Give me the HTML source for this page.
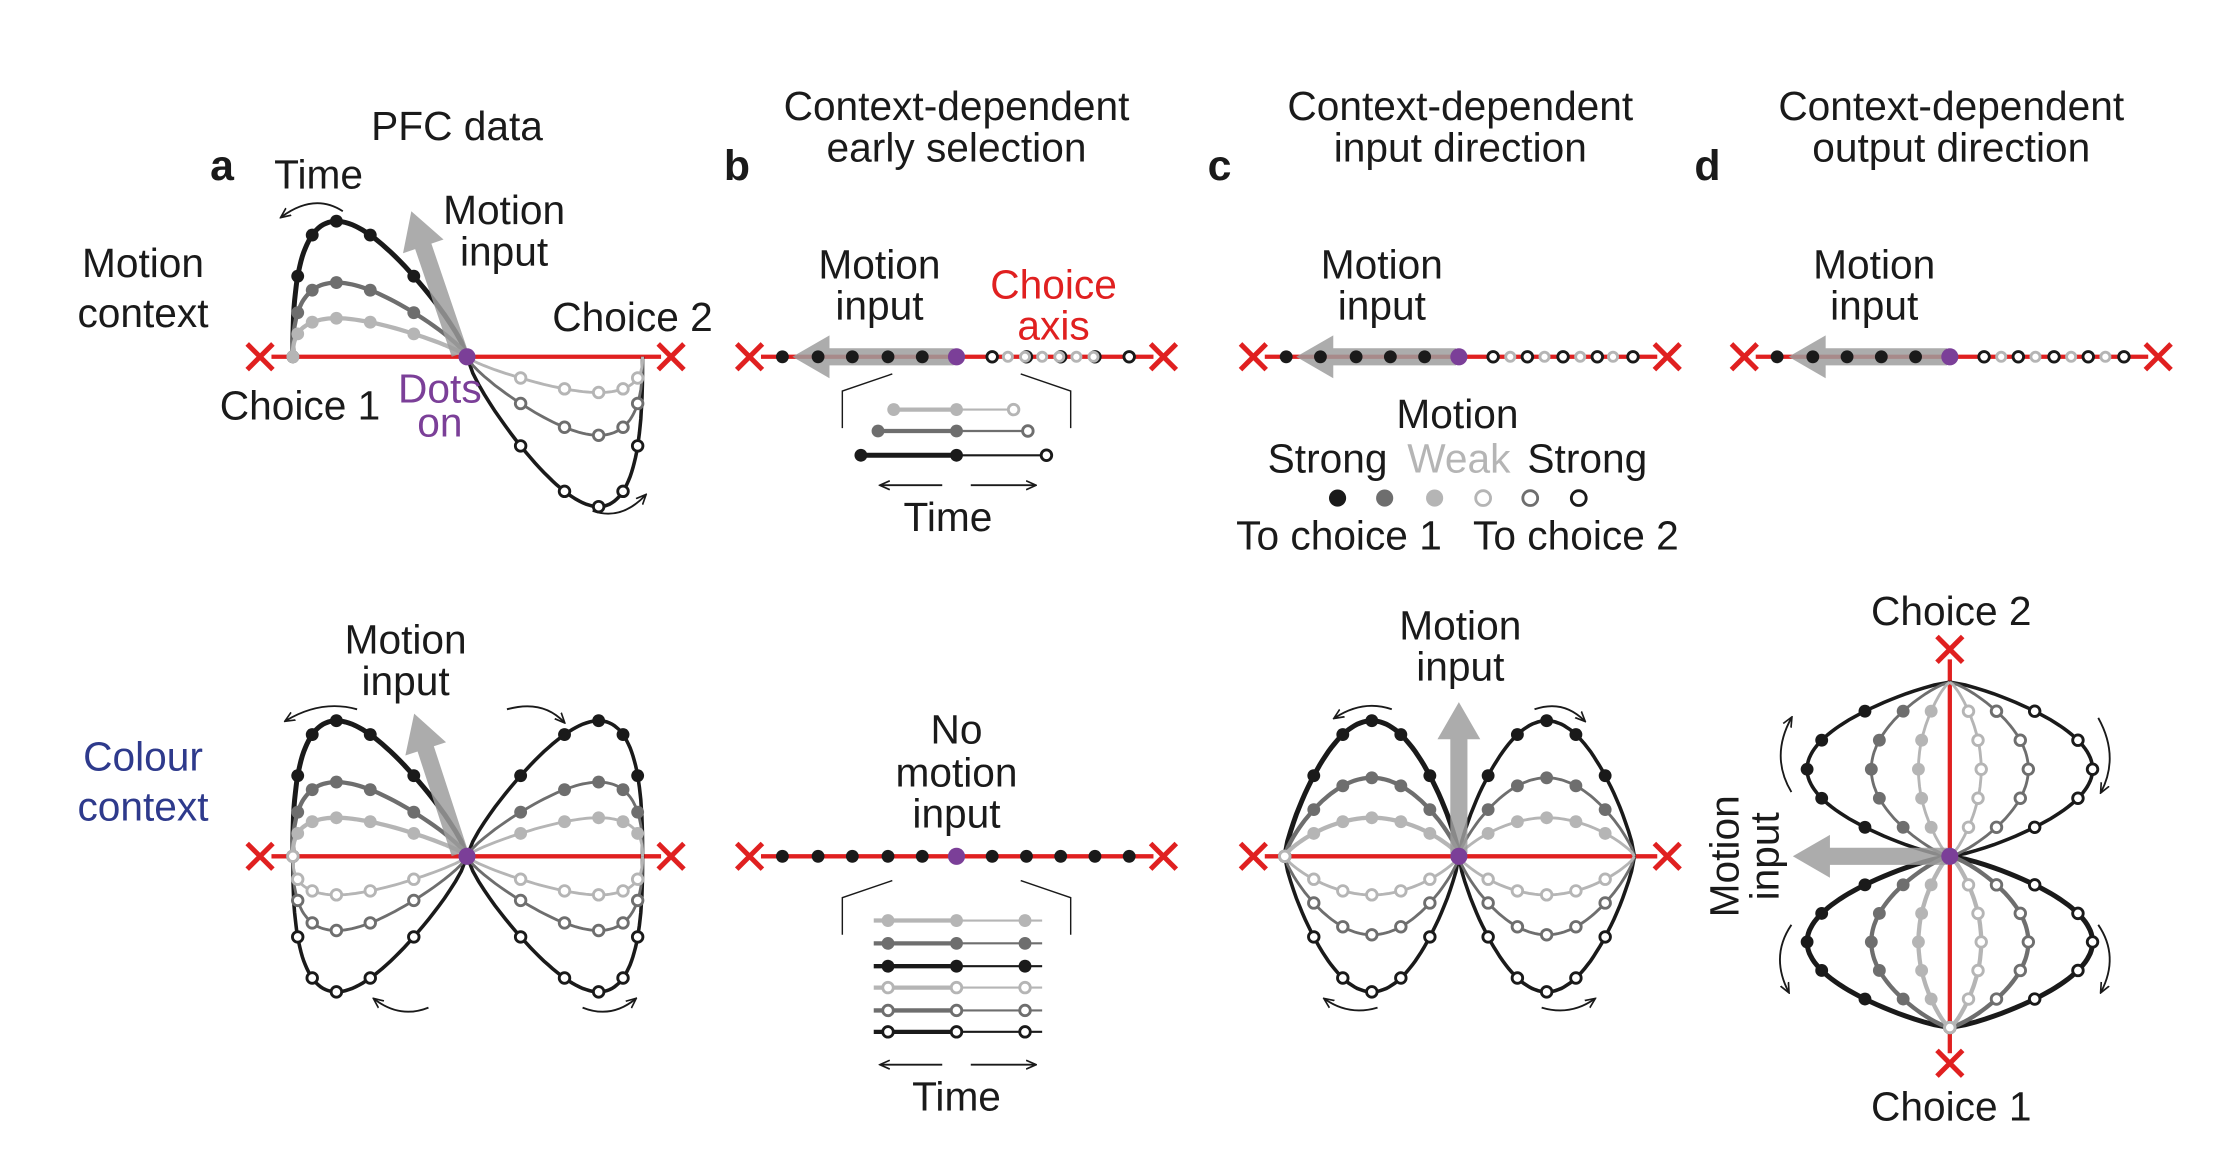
<!DOCTYPE html>
<html><head><meta charset="utf-8">
<style>
html,body{margin:0;padding:0;background:#fff;}
svg{display:block;}
text{font-family:"Liberation Sans",sans-serif;fill:#1a1a1a;}
</style></head>
<body>
<svg id="s" width="2227" height="1166" viewBox="0 0 1560 817" xmlns="http://www.w3.org/2000/svg">
<defs>
<marker id="ah" viewBox="0 0 10 10" refX="8" refY="5" markerWidth="6" markerHeight="6" orient="auto-start-reverse"><path d="M0,1 L9,5 L0,9" fill="none" stroke="#1a1a1a" stroke-width="1.5"/></marker>
</defs>
<g id="g"></g>
<g font-size="28.5" text-anchor="middle">
<text x="320" y="98">PFC data</text>
<text x="223" y="132">Time</text>
<text x="353" y="157">Motion</text><text x="353" y="186">input</text>
<text x="100" y="194">Motion</text><text x="100" y="229">context</text>
<text x="443" y="232">Choice 2</text>
<text x="210" y="294">Choice 1</text>
<text x="308" y="282" style="fill:#7b3f98">Dots</text><text x="308" y="306" style="fill:#7b3f98">on</text>
<text x="670" y="84">Context-dependent</text><text x="670" y="113">early selection</text>
<text x="1023" y="84">Context-dependent</text><text x="1023" y="113">input direction</text>
<text x="1367" y="84">Context-dependent</text><text x="1367" y="113">output direction</text>
<text x="616" y="195">Motion</text><text x="616" y="224">input</text>
<text x="738" y="209" style="fill:#e02020">Choice</text><text x="738" y="238" style="fill:#e02020">axis</text>
<text x="968" y="195">Motion</text><text x="968" y="224">input</text>
<text x="1313" y="195">Motion</text><text x="1313" y="224">input</text>
<text x="664" y="372">Time</text>
<text x="1021" y="300">Motion</text>
<text x="930" y="331">Strong</text><text x="1022" y="331" style="fill:#b5b5b5">Weak</text><text x="1112" y="331">Strong</text>
<text x="938" y="385">To choice 1</text><text x="1104" y="385">To choice 2</text>
<text x="284" y="458">Motion</text><text x="284" y="487">input</text>
<text x="100" y="540" style="fill:#2e3a8c">Colour</text><text x="100" y="575" style="fill:#2e3a8c">context</text>
<text x="670" y="521">No</text><text x="670" y="551">motion</text><text x="670" y="580">input</text>
<text x="670" y="778">Time</text>
<text x="1023" y="448">Motion</text><text x="1023" y="477">input</text>
<text x="1367" y="438">Choice 2</text>
<text x="1367" y="785">Choice 1</text>
<text transform="translate(1218,600) rotate(-90)">Motion</text>
<text transform="translate(1246,600) rotate(-90)">input</text>
</g>
<g font-size="30" font-weight="bold" font-family="Liberation Sans">
<text x="147" y="126">a</text><text x="507" y="126">b</text><text x="846" y="126">c</text><text x="1187" y="126">d</text>
</g>
</svg>
<script>
const NS="http://www.w3.org/2000/svg",G=document.getElementById('g');
const BK="#1a1a1a",DG="#6e6e6e",LG="#b5b5b5",RED="#e02020",PU="#7b3f98",AR="#9e9e9e";
function el(t,a){const e=document.createElementNS(NS,t);for(const k in a)e.setAttribute(k,a[k]);G.appendChild(e);return e;}
function line(x1,y1,x2,y2,c,w){el('line',{x1,y1,x2,y2,stroke:c,'stroke-width':w});}
function dot(x,y,c,filled,r){r=r||4.5;el('circle',{cx:x,cy:y,r:filled?r:r-0.8,fill:filled?c:'#fff',stroke:c,'stroke-width':filled?0:2});}
function cross(x,y){const d=9;line(x-d,y-d,x+d,y+d,RED,3.5);line(x-d,y+d,x+d,y-d,RED,3.5);}
function loop(p0,p1,h,c,w,filled,n,sk){
 const dx=p1[0]-p0[0],dy=p1[1]-p0[1],L=Math.hypot(dx,dy),nx=dy/L,ny=-dx/L;
 const P=t=>{let s=sk==1?t*t:sk==2?1-(1-t)*(1-t):sk==3?Math.pow(t,1.4):sk==4?1-Math.pow(1-t,1.4):t;
   let f=Math.pow(Math.sin(Math.PI*t),0.75);return [p0[0]+dx*s+nx*h*f,p0[1]+dy*s+ny*h*f];};
 let d="";for(let i=0;i<=60;i++){const p=P(i/60);d+=(i?'L':'M')+p[0].toFixed(1)+','+p[1].toFixed(1);}
 el('path',{d,fill:'none',stroke:c,'stroke-width':w});
 for(let i=0;i<n;i++){const p=P(i/n);dot(p[0],p[1],c,filled);}
}
function arrowG(x1,y1,x2,y2){const dx=x2-x1,dy=y2-y1,L=Math.hypot(dx,dy),ux=dx/L,uy=dy/L,nx=-uy,ny=ux;
 const hx=x2-ux*26,hy=y2-uy*26;
 el('polygon',{points:[[x1+nx*6,y1+ny*6],[hx+nx*6,hy+ny*6],[hx+nx*15,hy+ny*15],[x2,y2],[hx-nx*15,hy-ny*15],[hx-nx*6,hy-ny*6],[x1-nx*6,y1-ny*6]].map(p=>p.join(',')).join(' '),fill:AR,opacity:0.85});}
function arc(d){el('path',{d,fill:'none',stroke:BK,'stroke-width':1.3,'marker-end':'url(#ah)'});}
const cols=[[BK,3.5],[DG,3],[LG,3]];
line(190,250,463,250,RED,3);cross(182,250);cross(470,250);
[[95,BK],[52,DG],[27,LG]].forEach(([h,c],i)=>loop([205,250],[327,250],h,c,cols[i][1],true,6,1));
[[105,BK],[55,DG],[25,LG]].forEach(([h,c],i)=>loop([327,250],[450,250],-h,c,cols[i][1]-1,false,6,2));
arrowG(322,248,288,148);
dot(327,250,PU,true,6);
arc("M240,148 Q220,135 197,152");arc("M415,358 Q435,365 452,347");
line(190,600,463,600,RED,3);cross(182,600);cross(470,600);
[[95,BK],[52,DG],[27,LG]].forEach(([h,c],i)=>{loop([205,600],[327,600],h,c,cols[i][1],true,6,1);loop([205,600],[327,600],-h,c,cols[i][1]-1,false,6,1);});
[[95,BK],[52,DG],[27,LG]].forEach(([h,c],i)=>{loop([327,600],[450,600],h,c,cols[i][1]-1,true,6,2);loop([327,600],[450,600],-h,c,cols[i][1]-1,false,6,2);});
arrowG(322,598,290,500);
dot(327,600,PU,true,6);
arc("M250,497 Q225,490 200,505");arc("M355,497 Q380,490 395,506");arc("M300,706 Q280,714 262,700");arc("M408,706 Q428,714 445,700");
line(533,250,808,250,RED,3);cross(525,250);cross(815,250);
arrowG(668,250,555,250);
[548,573,597,622,646].forEach(x=>dot(x,250,BK,true));
[695,719,743,767,791].forEach(x=>dot(x,250,BK,false));
[706,718,730,742,754,766].forEach(x=>dot(x,250,LG,false,4));
dot(670,250,PU,true,6);
function bracket(y1,y2){el('path',{d:`M590,${y2} L590,${y1+12} L625,${y1}`,fill:'none',stroke:BK,'stroke-width':1});el('path',{d:`M750,${y2} L750,${y1+12} L715,${y1}`,fill:'none',stroke:BK,'stroke-width':1});}
bracket(262,300);
[[287,LG,626,710,3],[302,DG,615,720,3],[319,BK,603,733,3.5]].forEach(([y,c,a,b,w])=>{line(a,y,670,y,c,w);line(670,y,b,y,c,1.5);dot(a,y,c,true);dot(670,y,c,true);dot(b,y,c,false);});
arc("M660,340 L617,340");arc("M680,340 L725,340");
line(886,250,1161,250,RED,3);cross(878,250);cross(1168,250);
arrowG(1020,250,908,250);
[901,925,950,974,998].forEach(x=>dot(x,250,BK,true));
[1046,1070,1095,1119,1144].forEach(x=>dot(x,250,BK,false));
[1058,1082,1107,1130].forEach(x=>dot(x,250,LG,false,4));
dot(1022,250,PU,true,6);
[[937,BK,1],[970,DG,1],[1005,LG,1],[1039,LG,0],[1072,DG,0],[1106,BK,0]].forEach(([x,c,f])=>dot(x,349,c,f,6));
line(1230,250,1505,250,RED,3);cross(1222,250);cross(1512,250);
arrowG(1364,250,1253,250);
[1245,1270,1294,1318,1342].forEach(x=>dot(x,250,BK,true));
[1390,1414,1439,1463,1488].forEach(x=>dot(x,250,BK,false));
[1402,1426,1451,1475].forEach(x=>dot(x,250,LG,false,4));
dot(1366,250,PU,true,6);
line(533,600,808,600,RED,3);cross(525,600);cross(815,600);
[548,573,597,622,646].forEach(x=>dot(x,600,BK,true));[695,719,743,767,791].forEach(x=>dot(x,600,BK,true));
dot(670,600,PU,true,6);
bracket(617,655);
[[645,LG,1],[661,DG,1],[677,BK,1],[692,LG,0],[708,DG,0],[723,BK,0]].forEach(([y,c,f])=>{line(612,y,670,y,c,3);line(670,y,730,y,c,1.5);[622,670,718].forEach(x=>dot(x,y,c,f));});
arc("M660,746 L617,746");arc("M680,746 L725,746");
line(886,600,1161,600,RED,3);cross(878,600);cross(1168,600);
[[95,BK],[55,DG],[27,LG]].forEach(([h,c],i)=>{loop([900,600],[1022,600],h,c,cols[i][1],true,6,0);loop([900,600],[1022,600],-h,c,cols[i][1]-1,false,6,0);
 loop([1022,600],[1145,600],h,c,cols[i][1]-1,true,6,0);loop([1022,600],[1145,600],-h,c,cols[i][1]-1,false,6,0);});
arrowG(1022,598,1022,492);
dot(1022,600,PU,true,6);
arc("M975,497 Q955,490 935,503");arc("M1075,497 Q1095,490 1110,505");arc("M965,706 Q945,712 928,700");arc("M1080,706 Q1100,712 1117,700");
line(1366,462,1366,738,RED,3);cross(1366,455);cross(1366,745);
[[100,BK,3.5],[55,DG,3],[22,LG,3]].forEach(([h,c,w])=>{loop([1366,600],[1366,478],h,c,w-1,true,6,0);loop([1366,600],[1366,478],-h,c,w-1,false,6,0);
 loop([1366,720],[1366,600],h,c,w,true,6,0);loop([1366,720],[1366,600],-h,c,w,false,6,0);});
arrowG(1364,600,1256,600);
dot(1366,600,PU,true,6);
arc("M1255,555 Q1240,530 1255,503");arc("M1470,503 Q1485,530 1472,555");arc("M1255,648 Q1240,670 1253,695");arc("M1470,648 Q1485,670 1472,695");
</script>
</body></html>
